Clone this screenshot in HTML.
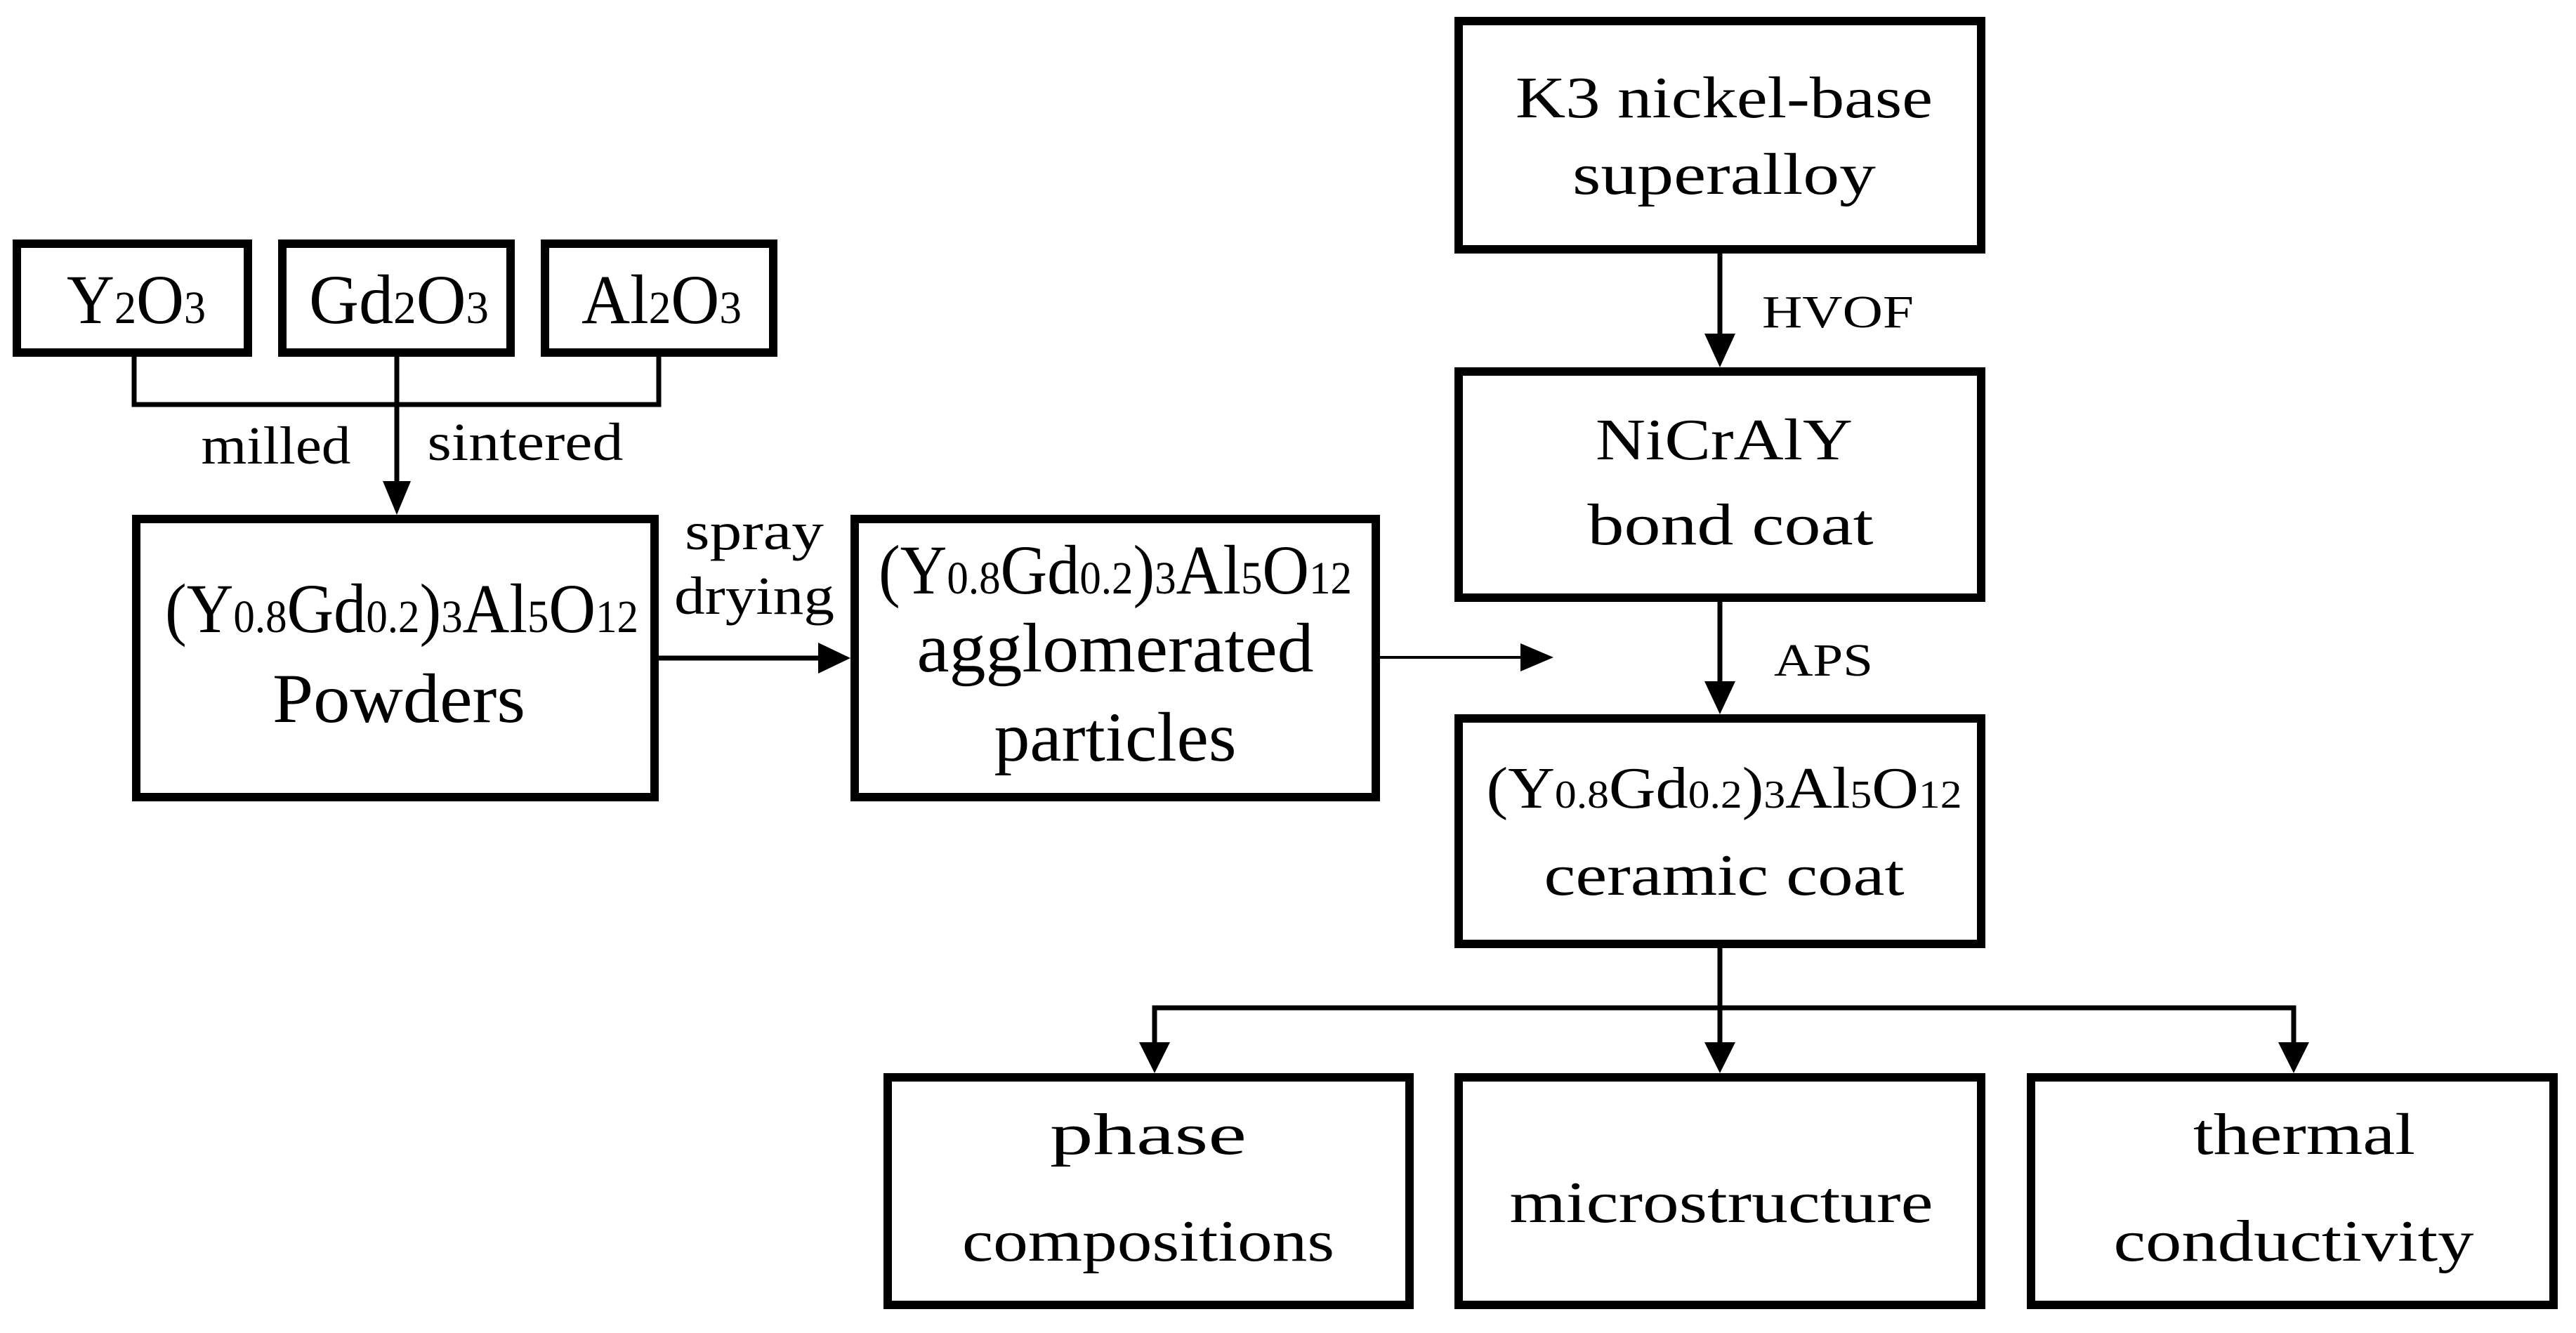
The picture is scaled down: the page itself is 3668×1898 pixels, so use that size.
<!DOCTYPE html>
<html><head><meta charset="utf-8"><style>html,body{margin:0;padding:0;background:#fff}svg{display:block}text{font-family:"Liberation Serif",serif}</style></head>
<body>
<svg width="3668" height="1898" viewBox="0 0 3668 1898" xmlns="http://www.w3.org/2000/svg" fill="#000">
<g fill="none" stroke="#000" stroke-width="12">
<rect x="24" y="347" width="329" height="155"/>
<rect x="402" y="347" width="325" height="155"/>
<rect x="776" y="347" width="325" height="155"/>
<rect x="194" y="739" width="738" height="396"/>
<rect x="1217" y="739" width="742" height="396"/>
<rect x="2077" y="30" width="744" height="325"/>
<rect x="2077" y="529" width="744" height="322"/>
<rect x="2077" y="1023" width="744" height="321"/>
<rect x="1264" y="1534" width="743" height="324"/>
<rect x="2077" y="1534" width="744" height="324"/>
<rect x="2892" y="1534" width="744" height="324"/>
</g>
<g stroke="#000" stroke-width="7" fill="none">
<polyline points="191,508 191,576 938,576 938,508"/>
<line x1="565" y1="508" x2="565" y2="690"/>
<line x1="938" y1="937" x2="1170" y2="937"/>
<line x1="1965" y1="936" x2="2170" y2="936" stroke-width="4"/>
<line x1="2449" y1="361" x2="2449" y2="480"/>
<line x1="2449" y1="857" x2="2449" y2="975"/>
<line x1="2449" y1="1350" x2="2449" y2="1490"/>
<polyline points="1644,1490 1644,1435 3266,1435 3266,1490"/>
</g>
<g>
<polygon points="545,685 585,685 565,733"/>
<polygon points="1165,915 1165,959 1211,937"/>
<polygon points="2165,916 2165,956 2212,936"/>
<polygon points="2427,475 2471,475 2449,523"/>
<polygon points="2427,970 2471,970 2449,1017"/>
<polygon points="1622,1484 1666,1484 1644,1528"/>
<polygon points="2427,1484 2471,1484 2449,1528"/>
<polygon points="3244,1484 3288,1484 3266,1528"/>
</g>
<g font-size="100" text-anchor="middle">
<text x="194" y="460" textLength="198" lengthAdjust="spacingAndGlyphs">Y<tspan font-size="66">2</tspan>O<tspan font-size="66">3</tspan></text>
<text x="568" y="460" textLength="256" lengthAdjust="spacingAndGlyphs">Gd<tspan font-size="66">2</tspan>O<tspan font-size="66">3</tspan></text>
<text x="942" y="460" textLength="228" lengthAdjust="spacingAndGlyphs">Al<tspan font-size="66">2</tspan>O<tspan font-size="66">3</tspan></text>
<text x="572" y="900" textLength="674" lengthAdjust="spacingAndGlyphs">(Y<tspan font-size="66">0.8</tspan>Gd<tspan font-size="66">0.2</tspan>)<tspan font-size="66">3</tspan>Al<tspan font-size="66">5</tspan>O<tspan font-size="66">12</tspan></text>
<text x="568" y="1028" textLength="360" lengthAdjust="spacingAndGlyphs">Powders</text>
<text x="1588" y="845" textLength="674" lengthAdjust="spacingAndGlyphs">(Y<tspan font-size="66">0.8</tspan>Gd<tspan font-size="66">0.2</tspan>)<tspan font-size="66">3</tspan>Al<tspan font-size="66">5</tspan>O<tspan font-size="66">12</tspan></text>
<text x="1588" y="956" textLength="565" lengthAdjust="spacingAndGlyphs">agglomerated</text>
<text x="1588" y="1083" textLength="345" lengthAdjust="spacingAndGlyphs">particles</text>
</g>
<g font-size="76" text-anchor="middle">
<text x="393" y="660" textLength="213" lengthAdjust="spacingAndGlyphs">milled</text>
<text x="748" y="655" textLength="279" lengthAdjust="spacingAndGlyphs">sintered</text>
<text x="1074" y="782" textLength="198" lengthAdjust="spacingAndGlyphs">spray</text>
<text x="1074" y="874" textLength="228" lengthAdjust="spacingAndGlyphs">drying</text>
</g>
<g font-size="66">
<text x="2509" y="466" textLength="216" lengthAdjust="spacingAndGlyphs">HVOF</text>
<text x="2526" y="962" textLength="141" lengthAdjust="spacingAndGlyphs">APS</text>
</g>
<g font-size="84" text-anchor="middle">
<text x="2455" y="167" textLength="594" lengthAdjust="spacingAndGlyphs">K3 nickel-base</text>
<text x="2455" y="276" textLength="432" lengthAdjust="spacingAndGlyphs">superalloy</text>
<text x="2455" y="654" textLength="366" lengthAdjust="spacingAndGlyphs">NiCrAlY</text>
<text x="2464" y="775" textLength="407" lengthAdjust="spacingAndGlyphs">bond coat</text>
<text x="2455" y="1150" textLength="677" lengthAdjust="spacingAndGlyphs">(Y<tspan font-size="56">0.8</tspan>Gd<tspan font-size="56">0.2</tspan>)<tspan font-size="56">3</tspan>Al<tspan font-size="56">5</tspan>O<tspan font-size="56">12</tspan></text>
<text x="2455" y="1274" textLength="513" lengthAdjust="spacingAndGlyphs">ceramic coat</text>
<text x="1635" y="1643" textLength="280" lengthAdjust="spacingAndGlyphs">phase</text>
<text x="1635" y="1795" textLength="530" lengthAdjust="spacingAndGlyphs">compositions</text>
<text x="2451" y="1740" textLength="603" lengthAdjust="spacingAndGlyphs">microstructure</text>
<text x="3281" y="1643" textLength="316" lengthAdjust="spacingAndGlyphs">thermal</text>
<text x="3266" y="1795" textLength="513" lengthAdjust="spacingAndGlyphs">conductivity</text>
</g>
</svg>
</body></html>
